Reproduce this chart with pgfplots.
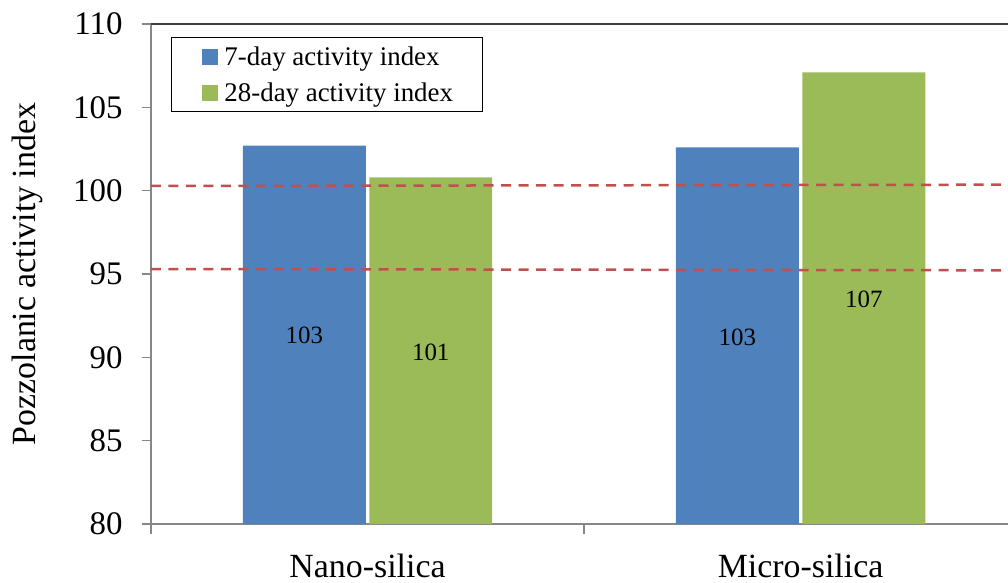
\documentclass[border=0pt]{standalone}
\usepackage{fontspec}
\setmainfont{Liberation Serif}
\usepackage{pgfplots}
\pgfplotsset{compat=1.18}
\definecolor{sevenday}{HTML}{4F81BD}
\definecolor{twentyeight}{HTML}{9BBB59}
\definecolor{limitred}{HTML}{C0504D}
\definecolor{axisgray}{HTML}{878787}
\definecolor{topgray}{HTML}{404040}

\begin{document}
\begin{tikzpicture}
\begin{axis}[
    scale only axis,
    width=857bp, height=500bp,
    xmin=-0.5, xmax=1.479,
    ymin=80, ymax=110,
    ytick={80,85,...,110},
    xtick={0,1},
    xticklabels={Nano-silica, Micro-silica},
    minor xtick={-0.5,0.5},
    major x tick style={draw=none},
    axis x line*=bottom,
    axis y line*=left,
    axis line style={axisgray, line width=1.5bp},
    tick style={axisgray, line width=1.5bp},
    tick align=outside,
    major tick length=9bp,
    minor tick length=10bp,
    clip=false,
    /pgf/number format/assume math mode=true,
    yticklabel style={font=\fontsize{33}{33}\selectfont, xshift=-16bp},
    xticklabel style={font=\fontsize{34}{34}\selectfont, yshift=-17bp},
    ylabel={Pozzolanic activity index},
    ylabel style={font=\fontsize{34}{34}\selectfont, at={(rel axis cs:-0.1447,0.5)}, anchor=center},
    legend style={at={(rel axis cs:0.0233,0.974)}, anchor=north west,
        draw=black, line width=1bp, font=\fontsize{27}{27}\selectfont,
        inner xsep=27bp, inner ysep=7bp, row sep=12bp},
    legend cell align=left,
    legsq/.style={legend image code/.code={%
        \path (-4bp,0bp) (20bp,0bp);
        \fill[##1] (0bp,-8bp) rectangle (16bp,8bp);}},
]
\coordinate (sw) at (rel axis cs:0,0);
\coordinate (ne) at (rel axis cs:1,1);

% 7-day and 28-day bars
\addplot[ybar, bar width=0.284, bar shift=-0.146, fill=sevenday, draw=none, legsq]
    coordinates {(0,102.7) (1,102.6)};
\addlegendentry{7-day activity index}
\addplot[ybar, bar width=0.284, bar shift=0.146, fill=twentyeight, draw=none, legsq]
    coordinates {(0,100.8) (1,107.1)};
\addlegendentry{28-day activity index}

% dashed reference lines
\addplot[sharp plot, no marks, limitred, line width=2.5bp, dash pattern=on 10bp off 7.5bp, forget plot]
    coordinates {(-0.5,100.28) (1.479,100.36)};
\addplot[sharp plot, no marks, limitred, line width=2.5bp, dash pattern=on 10bp off 7.5bp, forget plot]
    coordinates {(-0.5,95.30) (1.479,95.22)};

\draw[topgray, line width=1.5bp] (rel axis cs:0,1) -- (rel axis cs:1,1);

\begin{scope}[every node/.style={font=\fontsize{25}{25}\selectfont}]
\node at (axis cs:-0.146,91.30) {103};
\node at (axis cs:0.146,90.30) {101};
\node at (axis cs:0.854,91.20) {103};
\node at (axis cs:1.146,93.45) {107};
\end{scope}
\end{axis}
\pgfresetboundingbox
\path[use as bounding box] ([shift={(-151bp,-59bp)}]sw) rectangle ([shift={(0bp,24bp)}]ne);
\end{tikzpicture}
\end{document}
